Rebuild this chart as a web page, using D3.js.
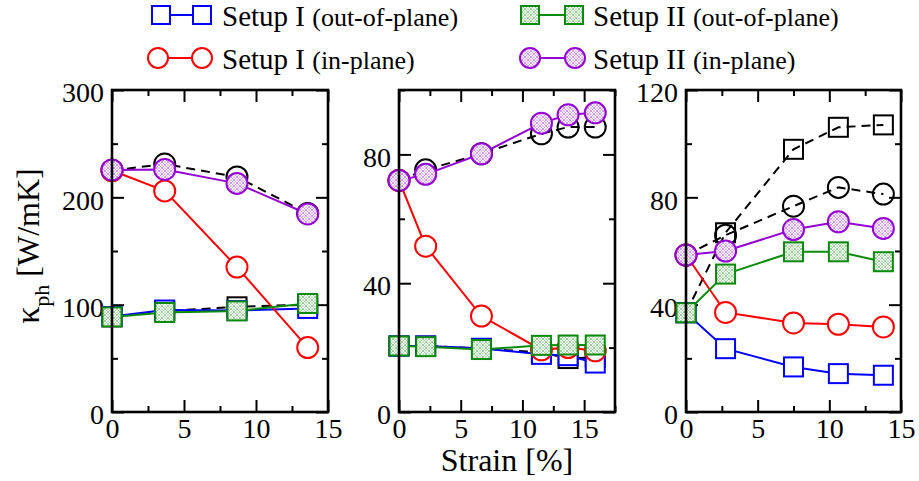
<!DOCTYPE html>
<html>
<head>
<meta charset="utf-8">
<script src="https://cdn.jsdelivr.net/npm/d3@7"></script>
<style>
  body { margin: 0; background: #fff; }
  svg { display: block; }
  text { font-family: "Liberation Serif", "Times New Roman", serif; fill: #000; }
</style>
</head>
<body>
<svg id="chart" width="919" height="481"></svg>
<script>
// ---- Panel 1 ----
const strain1 = [0, 3.66, 8.68, 13.59];
const p1InRef = [225, 231, 219, 185];
const p1OutRef = [88.6, 94, 98, 100];
const p1OutI = [89, 95, 94.5, 96.5];
const p1InI = [225, 206, 135, 60];
const p1OutII = [88.6, 92.7, 94.2, 101.1];
const p1InII = [225.5, 226, 213, 184.5];

// ---- Panel 2 ----
const strain2 = [0, 2.16, 6.68, 11.54, 13.7, 15.9];
const p2InRef = [71.9, 75.2, 80.2, 86.4, 88.5, 88.5];
const p2OutRef = [20.5, 20.5, 19.7, 18.5, 16.6, 17];
const p2OutI = [20.5, 20.5, 19.8, 17.9, 17.5, 15.2];
const p2InI = [71.9, 51.5, 29.8, 19.3, 20.0, 19.0];
const p2OutII = [20.5, 20.3, 19.4, 20.7, 20.8, 20.8];
const p2InII = [71.9, 73.8, 80.2, 89.7, 92.3, 92.9];

// ---- Panel 3 ----
const strain3 = [0, 2.76, 7.5, 10.63, 13.77];
const p3InRef = [58.5, 65.9, 76.7, 83.7, 81.2];
const p3OutRef = [37, 66.8, 97.9, 106.1, 107];
const p3OutI = [37, 23.6, 16.8, 14.3, 13.7];
const p3InI = [58.5, 37.1, 33.2, 32.7, 31.7];
const p3OutII = [37, 51.4, 59.7, 59.7, 56];
const p3InII = [58.5, 60, 68, 70.9, 68.4];

// ---- Axis ticks ----
const xMajor = [0, 5, 10, 15];
const xMinor1 = [2.5, 7.5, 12.5];
const xMinor2 = [2.5, 7.5, 12.5, 17.5];
const yMajor1 = [0, 100, 200, 300];
const yMinor1 = [50, 150, 250];
const yMajor2 = [0, 40, 80];
const yMinor2 = [20, 60, 100];
const yMajor3 = [0, 40, 80, 120];
const yMinor3 = [20, 60, 100];

// ---- Legend ----
const legendNames = ["Setup I", "Setup I", "Setup II", "Setup II"];
const legendNotes = ["(out-of-plane)", "(in-plane)", "(out-of-plane)", "(in-plane)"];

const COL = { blue: "#0000ff", red: "#ff0000", green: "#0a8a0a", violet: "#9400d3", black: "#000000" };

const svg = d3.select("#chart");
const defs = svg.append("defs");

// cross-hatched fills for the Setup II markers
function hatch(id, color) {
  const p = defs.append("pattern").attr("id", id)
    .attr("patternUnits", "userSpaceOnUse").attr("width", 6).attr("height", 6);
  p.append("rect").attr("width", 6).attr("height", 6).attr("fill", "#fff");
  p.append("path").attr("d", "M0,0L6,6M6,0L0,6M-1,5L1,7M5,-1L7,1M5,7L7,5M-1,1L1,-1")
    .attr("stroke", color).attr("stroke-width", 0.7).attr("stroke-opacity", 0.6);
  [[3, 0], [0, 3], [6, 3], [3, 6]].forEach(([cx, cy]) =>
    p.append("circle").attr("cx", cx).attr("cy", cy).attr("r", 0.55).attr("fill", color));
}
hatch("hatchGreen", COL.green);
hatch("hatchViolet", COL.violet);

function seriesSet(xs, outRef, inRef, outI, inI, outII, inII) {
  return [
    { x: xs, y: outRef, color: COL.black, shape: "square", fill: "none", dash: "9,6" },
    { x: xs, y: inRef, color: COL.black, shape: "circle", fill: "none", dash: "9,6" },
    { x: xs, y: outI, color: COL.blue, shape: "square", fill: "#fff" },
    { x: xs, y: inI, color: COL.red, shape: "circle", fill: "#fff" },
    { x: xs, y: outII, color: COL.green, shape: "square", fill: "url(#hatchGreen)" },
    { x: xs, y: inII, color: COL.violet, shape: "circle", fill: "url(#hatchViolet)" }
  ];
}

const panels = [
  { left: 112, right: 328, xDom: [0, 15], yDom: [0, 300], xMinor: xMinor1, yMaj: yMajor1, yMin: yMinor1,
    series: seriesSet(strain1, p1OutRef, p1InRef, p1OutI, p1InI, p1OutII, p1InII) },
  { left: 399, right: 615, xDom: [0, 17.5], yDom: [0, 100], xMinor: xMinor2, yMaj: yMajor2, yMin: yMinor2,
    series: seriesSet(strain2, p2OutRef, p2InRef, p2OutI, p2InI, p2OutII, p2InII) },
  { left: 686, right: 901, xDom: [0, 15], yDom: [0, 120], xMinor: xMinor1, yMaj: yMajor3, yMin: yMinor3,
    series: seriesSet(strain3, p3OutRef, p3InRef, p3OutI, p3InI, p3OutII, p3InII) }
];
const plotTop = 90, plotBottom = 412;
const MAJ = 12, MIN = 6;

function drawMarker(g, shape, cx, cy, color, fill, big) {
  if (shape === "square") {
    const s = big ? 19 : 18;
    g.append("rect").attr("x", cx - s / 2).attr("y", cy - s / 2).attr("width", s).attr("height", s)
      .attr("fill", fill).attr("stroke", color).attr("stroke-width", 2);
  } else {
    g.append("circle").attr("cx", cx).attr("cy", cy).attr("r", big ? 10.5 : 10)
      .attr("fill", fill).attr("stroke", color).attr("stroke-width", 2);
  }
}

panels.forEach(P => {
  const x = d3.scaleLinear().domain(P.xDom).range([P.left, P.right]);
  const y = d3.scaleLinear().domain(P.yDom).range([plotBottom, plotTop]);
  const g = svg.append("g");

  // tick marks (inward, mirrored on all four sides)
  const axes = g.append("g").attr("class", "axes");
  const mk = (axisFn, scale, vals, size, label, tr) => {
    const a = axes.append("g").attr("transform", tr)
      .call(axisFn(scale).tickValues(vals).tickSize(-size).tickPadding(label ? 8 : 0)
        .tickFormat(label ? d3.format("d") : () => ""));
    a.select(".domain").remove();
    a.selectAll("line").attr("stroke", "#000").attr("stroke-width", 2);
    a.selectAll("text").attr("font-size", 28).attr("fill", "#000");
    return a;
  };
  const bx = mk(d3.axisBottom, x, xMajor, MAJ, true, `translate(0,${plotBottom})`);
  bx.selectAll("text").attr("dy", "0.72em").attr("y", 6);
  mk(d3.axisBottom, x, P.xMinor, MIN, false, `translate(0,${plotBottom})`);
  mk(d3.axisTop, x, xMajor, MAJ, false, `translate(0,${plotTop})`);
  mk(d3.axisTop, x, P.xMinor, MIN, false, `translate(0,${plotTop})`);
  const ly = mk(d3.axisLeft, y, P.yMaj, MAJ, true, `translate(${P.left},0)`);
  ly.selectAll("text").attr("dy", "0.42em");
  mk(d3.axisLeft, y, P.yMin, MIN, false, `translate(${P.left},0)`);
  mk(d3.axisRight, y, P.yMaj, MAJ, false, `translate(${P.right},0)`);
  mk(d3.axisRight, y, P.yMin, MIN, false, `translate(${P.right},0)`);

  // data
  const line = d3.line().x(d => x(d[0])).y(d => y(d[1]));
  P.series.forEach(s => {
    const pts = s.x.map((v, i) => [v, s.y[i]]);
    g.append("path").attr("d", line(pts)).attr("fill", "none")
      .attr("stroke", s.color).attr("stroke-width", 2)
      .attr("stroke-dasharray", s.dash || null);
    pts.forEach(p => drawMarker(g, s.shape, x(p[0]), y(p[1]), s.color, s.fill, true));
  });

  // frame
  g.append("rect").attr("x", P.left).attr("y", plotTop)
    .attr("width", P.right - P.left).attr("height", plotBottom - plotTop)
    .attr("fill", "none").attr("stroke", "#000").attr("stroke-width", 2.6);
});

// axis titles
svg.append("text").attr("x", 507).attr("y", 471).attr("text-anchor", "middle")
  .attr("font-size", 32).text("Strain [%]");

const yt = svg.append("text").attr("transform", "translate(39,246) rotate(-90)")
  .attr("text-anchor", "middle").attr("font-size", 32);
yt.append("tspan").attr("font-size", 34).text("\u03ba");
yt.append("tspan").attr("font-size", 22).attr("dy", 10).text("ph");
yt.append("tspan").attr("dy", -10).text(" [W/mK]");

// legend
const legendPos = [
  { x1: 161, x2: 202, tx: 222, cy: 15, by: 26, color: COL.blue, shape: "square", fill: "#fff" },
  { x1: 158, x2: 202, tx: 222, cy: 58, by: 69, color: COL.red, shape: "circle", fill: "#fff" },
  { x1: 530, x2: 574, tx: 593, cy: 15, by: 26, color: COL.green, shape: "square", fill: "url(#hatchGreen)" },
  { x1: 530, x2: 575, tx: 593, cy: 58, by: 69, color: COL.violet, shape: "circle", fill: "url(#hatchViolet)" }
];
const lg = svg.append("g");
legendPos.forEach((L, i) => {
  lg.append("line").attr("x1", L.x1).attr("x2", L.x2).attr("y1", L.cy).attr("y2", L.cy)
    .attr("stroke", L.color).attr("stroke-width", 2);
  drawMarker(lg, L.shape, L.x1, L.cy, L.color, L.fill, false);
  drawMarker(lg, L.shape, L.x2, L.cy, L.color, L.fill, false);
  const t = lg.append("text").attr("x", L.tx).attr("y", L.by).attr("font-size", 29);
  t.append("tspan").text(legendNames[i] + " ");
  t.append("tspan").attr("font-size", 26).text(legendNotes[i]);
});
</script>
</body>
</html>
